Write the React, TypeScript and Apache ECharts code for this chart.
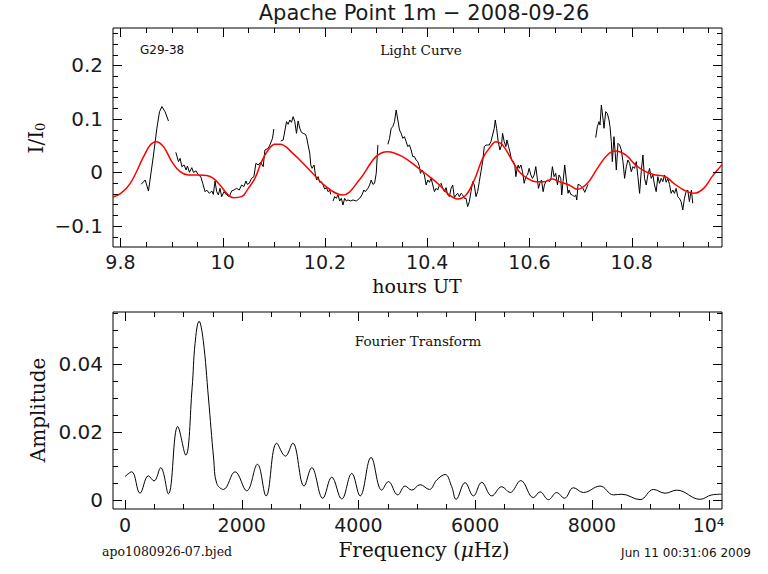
import React, { useEffect, useRef } from "react";
import * as echarts from "echarts";

// ---------- texts ----------
const TITLE = "Apache Point 1m − 2008-09-26";
const STAR = "G29-38";
const LC_LABEL = "Light Curve";
const FT_LABEL = "Fourier Transform";
const FILE_LABEL = "apo1080926-07.bjed";
const DATE_LABEL = "Jun 11 00:31:06 2009";
const LC_XNAME = "hours UT";
const FT_YNAME = "Amplitude";

// ---------- axis ranges ----------
const LC_X_RANGE = [9.7854, 10.9766];
const LC_Y_RANGE = [-0.1396, 0.2697];
const FT_X_RANGE = [-206, 10231];
const FT_Y_RANGE = [-0.00265, 0.0553];

// tick layouts: [start, end, minor step, minor per major]
const LC_X_TICKS = [9.8, 10.95, 0.05, 4];
const LC_Y_TICKS = [-0.12, 0.26, 0.02, 5];
const FT_X_TICKS = [0, 10000, 500, 4];
const FT_Y_TICKS = [0, 0.055, 0.005, 4];

// ---------- light curve (hours UT, I/I0) ----------
const LC_SEG1 = [
  [9.8406, -0.0224], [9.8484, -0.0144], [9.8548, -0.035], [9.8646, 0.0323],
  [9.8712, 0.0822], [9.8763, 0.113], [9.881, 0.1227], [9.8874, 0.113], [9.8939, 0.0959],
];
const LC_SEG2 = [
  [9.9083, 0.0373], [9.9135, 0.0199], [9.9167, 0.0261], [9.92, 0.0106], [9.9245, 0.0137],
  [9.9284, 0.0043], [9.931, 0.0118], [9.9349, 0.0], [9.9395, 0.0087], [9.9427, 0.0],
  [9.9479, 0.0025], [9.9525, -0.005], [9.957, -0.0081], [9.9609, -0.0206], [9.9655, -0.0362],
  [9.9687, -0.0331], [9.9739, -0.0393], [9.9785, -0.0349], [9.9817, -0.0412], [9.985, -0.0162],
  [9.9882, -0.0362], [9.9915, -0.0424], [9.9947, -0.03], [9.998, -0.0455], [10.0025, -0.0362],
  [10.0077, -0.0424], [10.0129, -0.0455], [10.0174, -0.0349], [10.022, -0.0331], [10.0272, -0.03],
  [10.0324, -0.0331], [10.0369, -0.0237], [10.0415, -0.0268], [10.0454, -0.0162], [10.048, -0.0225],
  [10.0519, -0.0206], [10.0565, -0.0113], [10.061, -0.0081], [10.0649, 0.0168], [10.0695, 0.0137],
  [10.074, 0.0187], [10.0792, 0.0106], [10.0825, 0.0417], [10.089, 0.0448], [10.0922, 0.051],
  [10.0974, 0.0635], [10.1, 0.081],
];
const LC_SEG3 = [
  [10.1137, 0.0585], [10.1183, 0.0604], [10.1248, 0.0947], [10.128, 0.0897], [10.1313, 0.0978],
  [10.1345, 0.0934], [10.1378, 0.104], [10.141, 0.0947], [10.1443, 0.0729], [10.1475, 0.096],
  [10.1508, 0.0822], [10.154, 0.0747], [10.1573, 0.0729], [10.1618, 0.071], [10.1638, 0.0666],
  [10.167, 0.051], [10.1703, 0.0355], [10.1722, 0.0137], [10.1748, 0.0074], [10.1787, 0.0137],
  [10.1813, -0.005], [10.1839, -0.0144], [10.1865, -0.0081], [10.1898, -0.0187], [10.193, -0.0175],
  [10.1963, -0.0237], [10.1995, -0.0312], [10.2028, -0.0287], [10.206, -0.0362], [10.2093, -0.0331],
  [10.2112, -0.0412],
];
const LC_SEG4 = [
  [10.2158, -0.0536], [10.219, -0.0455], [10.2223, -0.0486], [10.2255, -0.0424], [10.2288, -0.0536],
  [10.232, -0.0486], [10.2353, -0.0611], [10.2385, -0.0486], [10.2418, -0.0536], [10.245, -0.0517],
  [10.2502, -0.0536], [10.2548, -0.0517], [10.2613, -0.0536], [10.2678, -0.0486], [10.2723, -0.0424],
  [10.2762, -0.0331], [10.2788, -0.0362], [10.284, -0.03], [10.2873, -0.0237], [10.2905, -0.0144],
  [10.2938, -0.0225], [10.297, -0.0206], [10.3003, -0.0019], [10.3035, 0.051],
];
const LC_SEG5 = [
  [10.323, 0.0523], [10.3263, 0.0635], [10.3295, 0.0822], [10.3328, 0.0853], [10.336, 0.0947],
  [10.3393, 0.1165], [10.3425, 0.0978], [10.3458, 0.0791], [10.349, 0.0729], [10.3523, 0.0635],
  [10.3555, 0.0666], [10.3588, 0.0573], [10.362, 0.048], [10.3653, 0.0511], [10.3685, 0.0417],
  [10.3718, 0.0293], [10.375, 0.0293], [10.3783, 0.023], [10.3815, 0.0199], [10.3848, 0.0106],
  [10.3867, -0.0019], [10.39, 0.0043], [10.3945, -0.005], [10.3979, -0.0237], [10.4011, -0.0144],
  [10.4044, -0.0187], [10.4076, -0.0113], [10.4109, -0.0237], [10.4141, -0.0362], [10.4174, -0.03],
  [10.4206, -0.0331], [10.4239, -0.0237], [10.4271, -0.0206], [10.4304, -0.03], [10.4336, -0.0362],
  [10.4369, -0.0287], [10.4401, -0.0424], [10.4434, -0.0455], [10.4466, -0.03], [10.4499, -0.0237],
  [10.4531, -0.0474], [10.4564, -0.0424], [10.4596, -0.0393], [10.4629, -0.0455], [10.4661, -0.0393],
  [10.4694, -0.0424], [10.4726, -0.0486], [10.4759, -0.0486], [10.4791, -0.0642], [10.4824, -0.0549],
  [10.4856, -0.0362], [10.4889, -0.0175], [10.4921, -0.0237], [10.4954, -0.0455], [10.4986, -0.0362],
  [10.5019, -0.0175], [10.5051, 0.0012], [10.5084, 0.0199], [10.5116, 0.0479], [10.5149, 0.051],
  [10.5181, 0.051], [10.5214, 0.051], [10.5246, 0.0573], [10.5279, 0.0697], [10.5311, 0.0822],
  [10.5331, 0.0978], [10.5357, 0.0822], [10.5389, 0.0573], [10.5422, 0.0417], [10.5454, 0.051],
  [10.5474, 0.0729], [10.5506, 0.0573], [10.5539, 0.048], [10.5559, 0.0604], [10.5591, 0.048],
  [10.5617, 0.0386], [10.5643, 0.0261], [10.5669, 0.0199], [10.5689, 0.0199], [10.5715, 0.0106],
  [10.5734, -0.0081], [10.5754, 0.0043], [10.578, 0.0137], [10.5799, 0.0074], [10.5832, 0.0137],
  [10.5864, 0.0012], [10.5897, -0.0206], [10.5929, -0.0081], [10.5962, -0.005], [10.5994, 0.0074],
  [10.6027, -0.005], [10.6059, -0.0113], [10.6092, -0.005], [10.6124, 0.0106], [10.6157, -0.0144],
  [10.6176, -0.03], [10.6202, -0.0206], [10.6235, -0.0144], [10.6267, -0.0362], [10.6293, -0.0237],
  [10.6319, -0.0175], [10.6352, -0.0144], [10.6384, -0.0175], [10.6417, -0.0144], [10.6449, 0.0106],
  [10.6482, -0.0081], [10.6514, -0.0019], [10.6547, -0.0237], [10.6579, -0.005], [10.6612, -0.0113],
  [10.6631, -0.0424], [10.6657, -0.0175], [10.669, 0.0137], [10.6722, -0.0144], [10.6755, -0.0393],
  [10.6774, -0.033], [10.6808, -0.0412], [10.6841, -0.0424], [10.6873, -0.0455], [10.6906, -0.0424],
  [10.6925, -0.0518], [10.6951, -0.0225], [10.6984, -0.0237], [10.7016, -0.0268], [10.7049, -0.03],
  [10.7081, -0.0374], [10.7114, -0.03], [10.7146, -0.0225],
];
const LC_SEG6 = [
  [10.7296, 0.0648], [10.7328, 0.0853], [10.7361, 0.0947], [10.738, 0.0884], [10.7406, 0.1258],
  [10.7439, 0.0996], [10.7458, 0.0822], [10.7491, 0.1134], [10.7523, 0.1102], [10.7556, 0.0978],
  [10.7575, 0.0853], [10.7601, 0.0573], [10.7621, 0.0199], [10.7653, 0.0666], [10.7673, 0.0417],
  [10.7699, 0.0043], [10.7731, 0.0542], [10.7764, 0.051], [10.7796, 0.0417], [10.7829, 0.0199],
  [10.7861, -0.0113], [10.7894, 0.0106], [10.7926, 0.023], [10.7959, 0.0168], [10.7991, 0.0012],
  [10.8024, 0.0106], [10.8056, 0.0074], [10.8089, 0.0199], [10.8121, -0.0081], [10.8154, -0.0393],
  [10.8186, 0.0012], [10.8219, 0.0324], [10.8251, -0.0113], [10.8284, -0.0237], [10.8316, -0.005],
  [10.8349, 0.0074], [10.8381, -0.0113], [10.8414, -0.005], [10.8446, -0.0237], [10.8479, -0.0362],
  [10.8511, -0.0081], [10.8544, -0.0206], [10.8576, -0.0113], [10.8609, -0.0175], [10.8641, -0.005],
  [10.8674, -0.0187], [10.8706, -0.0113], [10.8739, -0.0225], [10.8771, -0.0393], [10.8804, -0.0331],
  [10.8836, -0.0393], [10.8869, -0.03], [10.8901, -0.0455], [10.8934, -0.0486], [10.8966, -0.0549],
  [10.8999, -0.0704], [10.9031, -0.0486], [10.9064, -0.0362], [10.9096, -0.0331], [10.9129, -0.0549],
  [10.9148, -0.0424], [10.9168, -0.0331], [10.9194, -0.058],
];
const LC_MODEL = [
  [9.7854, -0.046], [9.80, -0.040], [9.8192, -0.0206], [9.8452, 0.0292], [9.8582, 0.051],
  [9.8699, 0.0573], [9.8842, 0.048], [9.9005, 0.0199], [9.9167, 0.0012], [9.933, -0.005],
  [9.9525, -0.005], [9.9687, -0.006], [9.9817, -0.0113], [9.9947, -0.0237], [10.0077, -0.0393],
  [10.0207, -0.0474], [10.037, -0.0455], [10.05, -0.03], [10.063, -0.0113], [10.076, 0.0199],
  [10.089, 0.0417], [10.102, 0.0523], [10.1117, 0.0525], [10.1372, 0.0355], [10.1697, 0.0044],
  [10.2022, -0.0268], [10.2347, -0.0424], [10.2672, -0.0143], [10.2997, 0.0293], [10.3225, 0.0386],
  [10.3517, 0.0293], [10.3849, 0.0062], [10.4044, -0.0081], [10.4239, -0.0237], [10.4434, -0.0424],
  [10.4596, -0.0499], [10.4759, -0.0424], [10.4921, -0.0144], [10.5084, 0.0261], [10.5214, 0.0448],
  [10.5344, 0.0573], [10.5474, 0.051], [10.5636, 0.0261], [10.5799, 0.0012], [10.5961, -0.0113],
  [10.6124, -0.0175], [10.6286, -0.0175], [10.6449, -0.0125], [10.6579, -0.0175], [10.6774, -0.0237],
  [10.6938, -0.0318], [10.7133, -0.0206], [10.7328, 0.0074], [10.7523, 0.0324], [10.7686, 0.0398],
  [10.7881, 0.0324], [10.8076, 0.0137], [10.8271, 0.0012], [10.8466, -0.005], [10.8661, -0.0081],
  [10.8823, -0.0206], [10.9018, -0.033], [10.9213, -0.0393], [10.9408, -0.03], [10.9571, -0.0081],
  [10.9733, 0.0106], [10.9766, 0.014],
];

// ---------- Fourier transform (µHz, amplitude) ----------
const FT_FREQ = [
  0, 114, 257, 400, 497, 611, 743, 903, 1040, 1150, 1200, 1269, 1340, 1430, 1520, 1571, 1686,
  1886, 2086, 2269, 2417, 2600, 2749, 2874, 3069, 3200, 3389, 3543, 3714, 3886, 4029, 4217,
  4400, 4514, 4674, 4800, 4914, 5057, 5216, 5342, 5486, 5599, 5674, 5828, 5971, 6113, 6285,
  6456, 6599, 6782, 6999, 7113, 7256, 7399, 7530, 7685, 7856, 8142, 8370, 8513, 8827, 9056,
  9256, 9456, 9856, 10056, 10227,
];
const FT_AMP = [
  0.0069, 0.0083, 0.002, 0.0071, 0.0056, 0.0095, 0.0018, 0.0216, 0.0132, 0.033, 0.046, 0.0526,
  0.047, 0.03, 0.012, 0.0049, 0.0031, 0.0083, 0.0027, 0.0105, 0.0012, 0.0167, 0.0129, 0.0167,
  0.0041, 0.0095, 0.0005, 0.0067, 0.0003, 0.0078, 0.0012, 0.0125, 0.0029, 0.0054, 0.0015,
  0.0041, 0.0029, 0.0045, 0.0031, 0.0059, 0.0075, 0.0039, 0.0002, 0.0051, 0.0012, 0.0052,
  0.0012, 0.0039, 0.0022, 0.0057, 0.0007, 0.0024, 0.0001, 0.0022, 0.0005, 0.0036, 0.0022,
  0.0041, 0.0015, 0.0017, 0.0001, 0.0031, 0.002, 0.0029, 0.0002, 0.0015, 0.0017,
];

const SANS = "DejaVu Sans";
const SERIF = "DejaVu Serif";

function buildTicks(xSpec: number[], ySpec: number[]) {
  const out: number[][] = [];
  const add = (spec: number[], axis: number) => {
    const [start, end, step, per] = spec;
    const n = Math.round((end - start) / step);
    for (let i = 0; i <= n; i++) {
      const v = start + i * step;
      const major = Math.abs(Math.round(v / (step * per)) * step * per - v) < step * 1e-3 ? 1 : 0;
      out.push([Number(v.toFixed(6)), axis, major]);
    }
  };
  add(xSpec, 0);
  add(ySpec, 1);
  return out;
}

function tickRenderer(xr: number[], yr: number[]) {
  return (_params: any, api: any) => {
    const v = api.value(0);
    const isY = api.value(1) === 1;
    const len = api.value(2) === 1 ? 9 : 5;
    const style = { stroke: "#000", lineWidth: 1 };
    if (!isY) {
      const b = api.coord([v, yr[0]]);
      const t = api.coord([v, yr[1]]);
      const x = Math.round(b[0]) + 0.5;
      return {
        type: "group",
        children: [
          { type: "line", shape: { x1: x, y1: b[1], x2: x, y2: b[1] - len }, style },
          { type: "line", shape: { x1: x, y1: t[1], x2: x, y2: t[1] + len }, style },
        ],
      };
    }
    const l = api.coord([xr[0], v]);
    const r = api.coord([xr[1], v]);
    const y = Math.round(l[1]) + 0.5;
    return {
      type: "group",
      children: [
        { type: "line", shape: { x1: l[0], y1: y, x2: l[0] + len, y2: y }, style },
        { type: "line", shape: { x1: r[0], y1: y, x2: r[0] - len, y2: y }, style },
      ],
    };
  };
}

const numFmt = (v: number) => (v < 0 ? "−" + String(Math.abs(v)) : String(v));

export default function App() {
  const ref = useRef<HTMLDivElement>(null);
  useEffect(() => {
    if (!ref.current) return;
    const chart = echarts.init(ref.current, null, { renderer: "svg" });
    const labelStyle = { fontFamily: SANS, fontSize: 19, color: "#1a1a1a" };
    const hidden = { show: false };
    const blackLine = (data: number[][]) => ({
      type: "line",
      xAxisIndex: 0,
      yAxisIndex: 0,
      data,
      symbol: "none",
      lineStyle: { color: "#000", width: 1 },
      silent: true,
      z: 2,
    });
    const option: any = {
      animation: false,
      backgroundColor: "#fff",
      grid: [
        { left: 113, top: 28, width: 609, height: 219, show: true, borderColor: "#000", borderWidth: 1 },
        { left: 113, top: 312, width: 609, height: 197, show: true, borderColor: "#000", borderWidth: 1 },
      ],
      xAxis: [
        {
          type: "value", gridIndex: 0, min: LC_X_RANGE[0], max: LC_X_RANGE[1],
          axisLine: hidden, axisTick: hidden, splitLine: hidden,
          axisLabel: { ...labelStyle, margin: 5, showMinLabel: false, showMaxLabel: false },
        },
        {
          type: "value", gridIndex: 1, min: FT_X_RANGE[0], max: FT_X_RANGE[1],
          axisLine: hidden, axisTick: hidden, splitLine: hidden,
          axisLabel: {
            ...labelStyle, margin: 6, showMinLabel: false, showMaxLabel: false,
            formatter: (v: number) => (v === 10000 ? "10⁴" : String(v)),
          },
        },
      ],
      yAxis: [
        {
          type: "value", gridIndex: 0, min: LC_Y_RANGE[0], max: LC_Y_RANGE[1],
          axisLine: hidden, axisTick: hidden, splitLine: hidden,
          axisLabel: { ...labelStyle, fontSize: 20, margin: 10, showMinLabel: false, showMaxLabel: false, formatter: numFmt },
        },
        {
          type: "value", gridIndex: 1, min: FT_Y_RANGE[0], max: FT_Y_RANGE[1], splitNumber: 3,
          axisLine: hidden, axisTick: hidden, splitLine: hidden,
          axisLabel: { ...labelStyle, fontSize: 20, margin: 10, showMinLabel: false, showMaxLabel: false, formatter: numFmt },
        },
      ],
      series: [
        blackLine(LC_SEG1),
        blackLine(LC_SEG2),
        blackLine(LC_SEG3),
        blackLine(LC_SEG4),
        blackLine(LC_SEG5),
        blackLine(LC_SEG6),
        {
          type: "line", xAxisIndex: 0, yAxisIndex: 0, data: LC_MODEL, symbol: "none", smooth: 0.4,
          lineStyle: { color: "#ff0000", width: 1.5 }, silent: true, z: 3,
        },
        {
          type: "line", xAxisIndex: 1, yAxisIndex: 1,
          data: FT_FREQ.map((f, i) => [f, FT_AMP[i]]),
          symbol: "none", smooth: 0.4, lineStyle: { color: "#000", width: 1 }, silent: true, z: 2,
        },
        {
          type: "custom", xAxisIndex: 0, yAxisIndex: 0, silent: true, z: 4,
          data: buildTicks(LC_X_TICKS, LC_Y_TICKS),
          renderItem: tickRenderer(LC_X_RANGE, LC_Y_RANGE),
        },
        {
          type: "custom", xAxisIndex: 1, yAxisIndex: 1, silent: true, z: 4,
          data: buildTicks(FT_X_TICKS, FT_Y_TICKS),
          renderItem: tickRenderer(FT_X_RANGE, FT_Y_RANGE),
        },
      ],
      graphic: [
        { type: "text", x: 424, y: 13, style: { text: TITLE, fontFamily: SANS, fontSize: 21, fill: "#1a1a1a", align: "center", verticalAlign: "middle" } },
        { type: "text", x: 140, y: 50, style: { text: STAR, fontFamily: SANS, fontSize: 12, fill: "#111", align: "left", verticalAlign: "middle" } },
        { type: "text", x: 421, y: 50, style: { text: LC_LABEL, fontFamily: SERIF, fontSize: 13.5, fill: "#111", align: "center", verticalAlign: "middle" } },
        { type: "text", x: 418, y: 341, style: { text: FT_LABEL, fontFamily: SERIF, fontSize: 13.5, fill: "#111", align: "center", verticalAlign: "middle" } },
        { type: "text", x: 417, y: 286, style: { text: LC_XNAME, fontFamily: SERIF, fontSize: 19, fill: "#111", align: "center", verticalAlign: "middle" } },
        {
          type: "text", x: 424, y: 550,
          style: {
            text: "Frequency ({i|μ}Hz)", fontFamily: SERIF, fontSize: 20, fill: "#111", align: "center", verticalAlign: "middle",
            rich: { i: { fontFamily: SERIF, fontSize: 20, fontStyle: "italic", fill: "#111" } },
          },
        },
        {
          type: "text", x: 36, y: 138, rotation: Math.PI / 2,
          style: {
            text: "I/I{s|0}", fontFamily: SERIF, fontSize: 20, fill: "#111", align: "center", verticalAlign: "middle",
            rich: { s: { fontFamily: SERIF, fontSize: 13, fill: "#111", verticalAlign: "bottom", padding: [8, 0, 0, 0] } },
          },
        },
        { type: "text", x: 38, y: 410, rotation: Math.PI / 2, style: { text: FT_YNAME, fontFamily: SERIF, fontSize: 20, fill: "#111", align: "center", verticalAlign: "middle" } },
        { type: "text", x: 102, y: 551, style: { text: FILE_LABEL, fontFamily: SERIF, fontSize: 12.5, fill: "#111", align: "left", verticalAlign: "middle" } },
        { type: "text", x: 751, y: 553, style: { text: DATE_LABEL, fontFamily: SANS, fontSize: 12, fill: "#111", align: "right", verticalAlign: "middle" } },
      ],
    };
    chart.setOption(option);
    return () => chart.dispose();
  }, []);
  return (
    <div
      ref={ref}
      style={{ position: "fixed", left: 0, top: 0, width: 768, height: 574, background: "#fff" }}
    />
  );
}
